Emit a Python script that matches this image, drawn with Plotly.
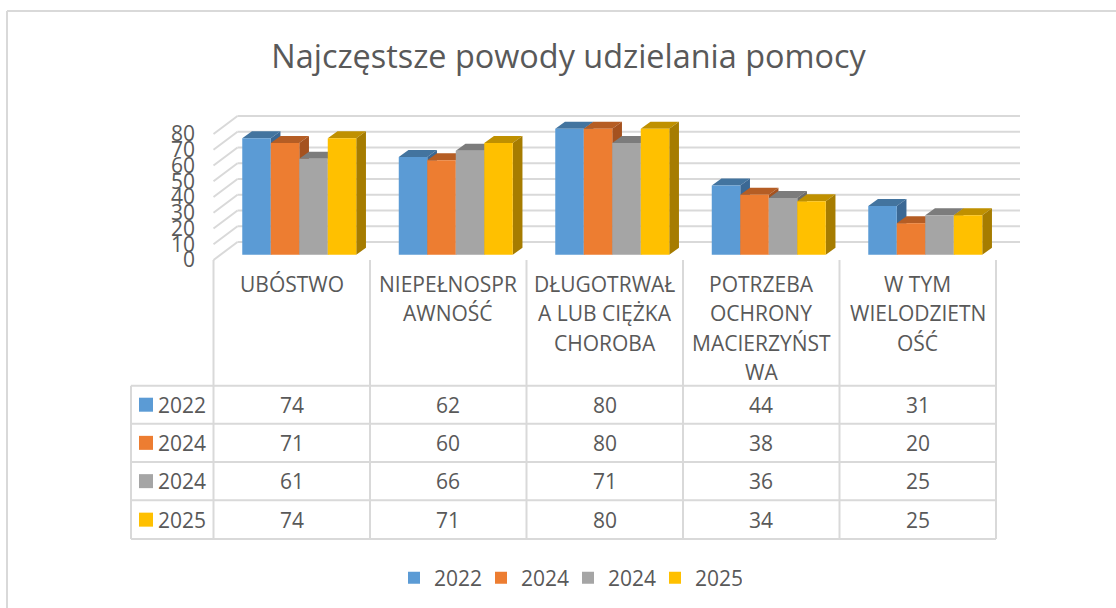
import plotly.graph_objects as go

# ---- data ----
categories = [["UBÓSTWO"], ["NIEPEŁNOSPR", "AWNOŚĆ"], ["DŁUGOTRWAŁ", "A LUB CIĘŻKA", "CHOROBA"],
              ["POTRZEBA", "OCHRONY", "MACIERZYŃST", "WA"], ["W TYM", "WIELODZIETN", "OŚĆ"]]
series_names = ["2022", "2024", "2024", "2025"]
s2022 = [74, 62, 80, 44, 31]
s2024a = [71, 60, 80, 38, 20]
s2024b = [61, 66, 71, 36, 25]
s2025 = [74, 71, 80, 34, 25]
y_ticks = [0, 10, 20, 30, 40, 50, 60, 70, 80]

series = [s2022, s2024a, s2024b, s2025]
front = ["#5B9BD5", "#ED7D31", "#A5A5A5", "#FFC000"]
top = ["#43749F", "#B55D24", "#7C7C7C", "#BF9000"]
side = ["#3B6894", "#A5521F", "#6B6B6B", "#A67C00"]

W, H = 1116, 608
GRID = "#D9D9D9"
TXT = "#595959"
FONT = "Open Sans"

# pixel geometry of the frame
X0, CW = 213.5, 156.5            # first divider, category width
PPU = 1.575                      # px per value unit
Y_WALL0 = 260.0                  # front-wall zero
Y_BAR0 = 254.7                   # bar front zero
WALL_DU, WALL_DV = 24 / CW, 18 / PPU
BAR_DU, BAR_DV = 9.7 / CW, 7 / PPU
BAR_W = 28.5 / CW
GROUP_C = 0.548


def fx(px):
    return px / W


def fy(py):
    return 1 - py / H


fig = go.Figure()

# walls on the primary axis
gx, gy, wx, wy = [], [], [], []
for t in y_ticks:
    gx += [WALL_DU, 5 + WALL_DU, None]
    gy += [t + WALL_DV, t + WALL_DV, None]
    wx += [0, WALL_DU, None]
    wy += [t, t + WALL_DV, None]
line_kw = dict(mode="lines", line=dict(color=GRID, width=2), hoverinfo="skip", showlegend=False)
fig.add_trace(go.Scatter(x=gx, y=gy, **line_kw))
fig.add_trace(go.Scatter(x=wx, y=wy, **line_kw))

# bars with faces on the overlaying axis
for s, vals in enumerate(series):
    offset = -2 * BAR_W + s * BAR_W
    tx, ty, sx, sy = [], [], [], []
    for i, v in enumerate(vals):
        l = i + GROUP_C + offset
        r = l + BAR_W
        tx += [l, r, r + BAR_DU, l + BAR_DU, l, None]
        ty += [v, v, v + BAR_DV, v + BAR_DV, v, None]
        sx += [r, r, r + BAR_DU, r + BAR_DU, r, None]
        sy += [0, v, v + BAR_DV, BAR_DV, 0, None]
    face = dict(mode="lines", fill="toself", line=dict(width=0), hoverinfo="skip",
                showlegend=False, yaxis="y2", zorder=2 * s + 1)
    fig.add_trace(go.Scatter(x=tx, y=ty, fillcolor=top[s], **face))
    fig.add_trace(go.Scatter(x=sx, y=sy, fillcolor=side[s], **face))
    fig.add_trace(go.Bar(x=[i + GROUP_C for i in range(5)], y=vals, width=BAR_W, offset=offset,
                         name=series_names[s], marker=dict(color=front[s], line=dict(width=0)),
                         yaxis="y2", zorder=2 * s + 2))

shapes = []


def seg(x0, y0, x1, y1, width=2):
    shapes.append(dict(type="line", xref="paper", yref="paper", x0=fx(x0), y0=fy(y0), x1=fx(x1), y1=fy(y1),
                       line=dict(color=GRID, width=width), layer="below"))


# outer frame of the picture
seg(7, 11, W, 11)
seg(7, 11, 7, H)

# table grid
rows_y = [385.7, 423.7, 462.0, 500.3, 539.0]
for i in range(6):
    seg(X0 + i * CW, Y_WALL0, X0 + i * CW, rows_y[-1])
seg(131, rows_y[0], 131, rows_y[-1])
for ry in rows_y:
    seg(131, ry, X0 + 5 * CW, ry)

ann = []


def text(px, py, s, size=20, anchor="center"):
    ann.append(dict(text=s, x=fx(px), y=fy(py), xref="paper", yref="paper", xanchor=anchor, yanchor="middle",
                    showarrow=False, font=dict(family=FONT, size=size, color=TXT)))


# category labels
LINE_Y = [284, 313, 343, 372]
for i, lines in enumerate(categories):
    for j, ln in enumerate(lines):
        text(X0 + (i + 0.5) * CW, LINE_Y[j], ln, size=21)

# table body
for r, vals in enumerate(series):
    cy = (rows_y[r] + rows_y[r + 1]) / 2
    shapes.append(dict(type="rect", xref="paper", yref="paper", x0=fx(139), x1=fx(153),
                       y0=fy(cy - 7), y1=fy(cy + 7), fillcolor=front[r], line=dict(width=0)))
    text(156, cy, series_names[r], size=21, anchor="left")
    for i, v in enumerate(vals):
        text(X0 + (i + 0.5) * CW, cy, str(v), size=21)

xr = [(0 - X0) / CW, (W - X0) / CW]
fig.update_layout(
    width=W, height=H, margin=dict(l=0, r=0, t=0, b=0), autosize=False,
    paper_bgcolor="white", plot_bgcolor="rgba(0,0,0,0)",
    barmode="overlay",
    title=dict(text="Najczęstsze powody udzielania pomocy", x=fx(568.5), xanchor="center", xref="paper",
               y=fy(57), yref="paper", yanchor="middle",
               font=dict(family=FONT, size=32.4, color=TXT)),
    xaxis=dict(range=xr, visible=False, fixedrange=True),
    yaxis=dict(range=[(Y_WALL0 - H) / PPU, Y_WALL0 / PPU], tickvals=y_ticks, showgrid=False, zeroline=False,
               showline=False, ticks="", anchor="free", position=fx(195), side="left",
               tickfont=dict(family=FONT, size=21, color=TXT), fixedrange=True),
    yaxis2=dict(range=[(Y_BAR0 - H) / PPU, Y_BAR0 / PPU], overlaying="y", visible=False, fixedrange=True),
    legend=dict(orientation="h", x=fx(568), xanchor="center", y=fy(578), yanchor="middle",
                font=dict(family=FONT, size=21, color=TXT), entrywidth=42, entrywidthmode="pixels",
                itemclick=False, itemdoubleclick=False, bgcolor="rgba(0,0,0,0)"),
    shapes=shapes, annotations=ann,
)

fig.write_html("out.html", config=dict(displayModeBar=False),
               post_script="document.body.style.margin='0';document.body.style.overflow='hidden';")
